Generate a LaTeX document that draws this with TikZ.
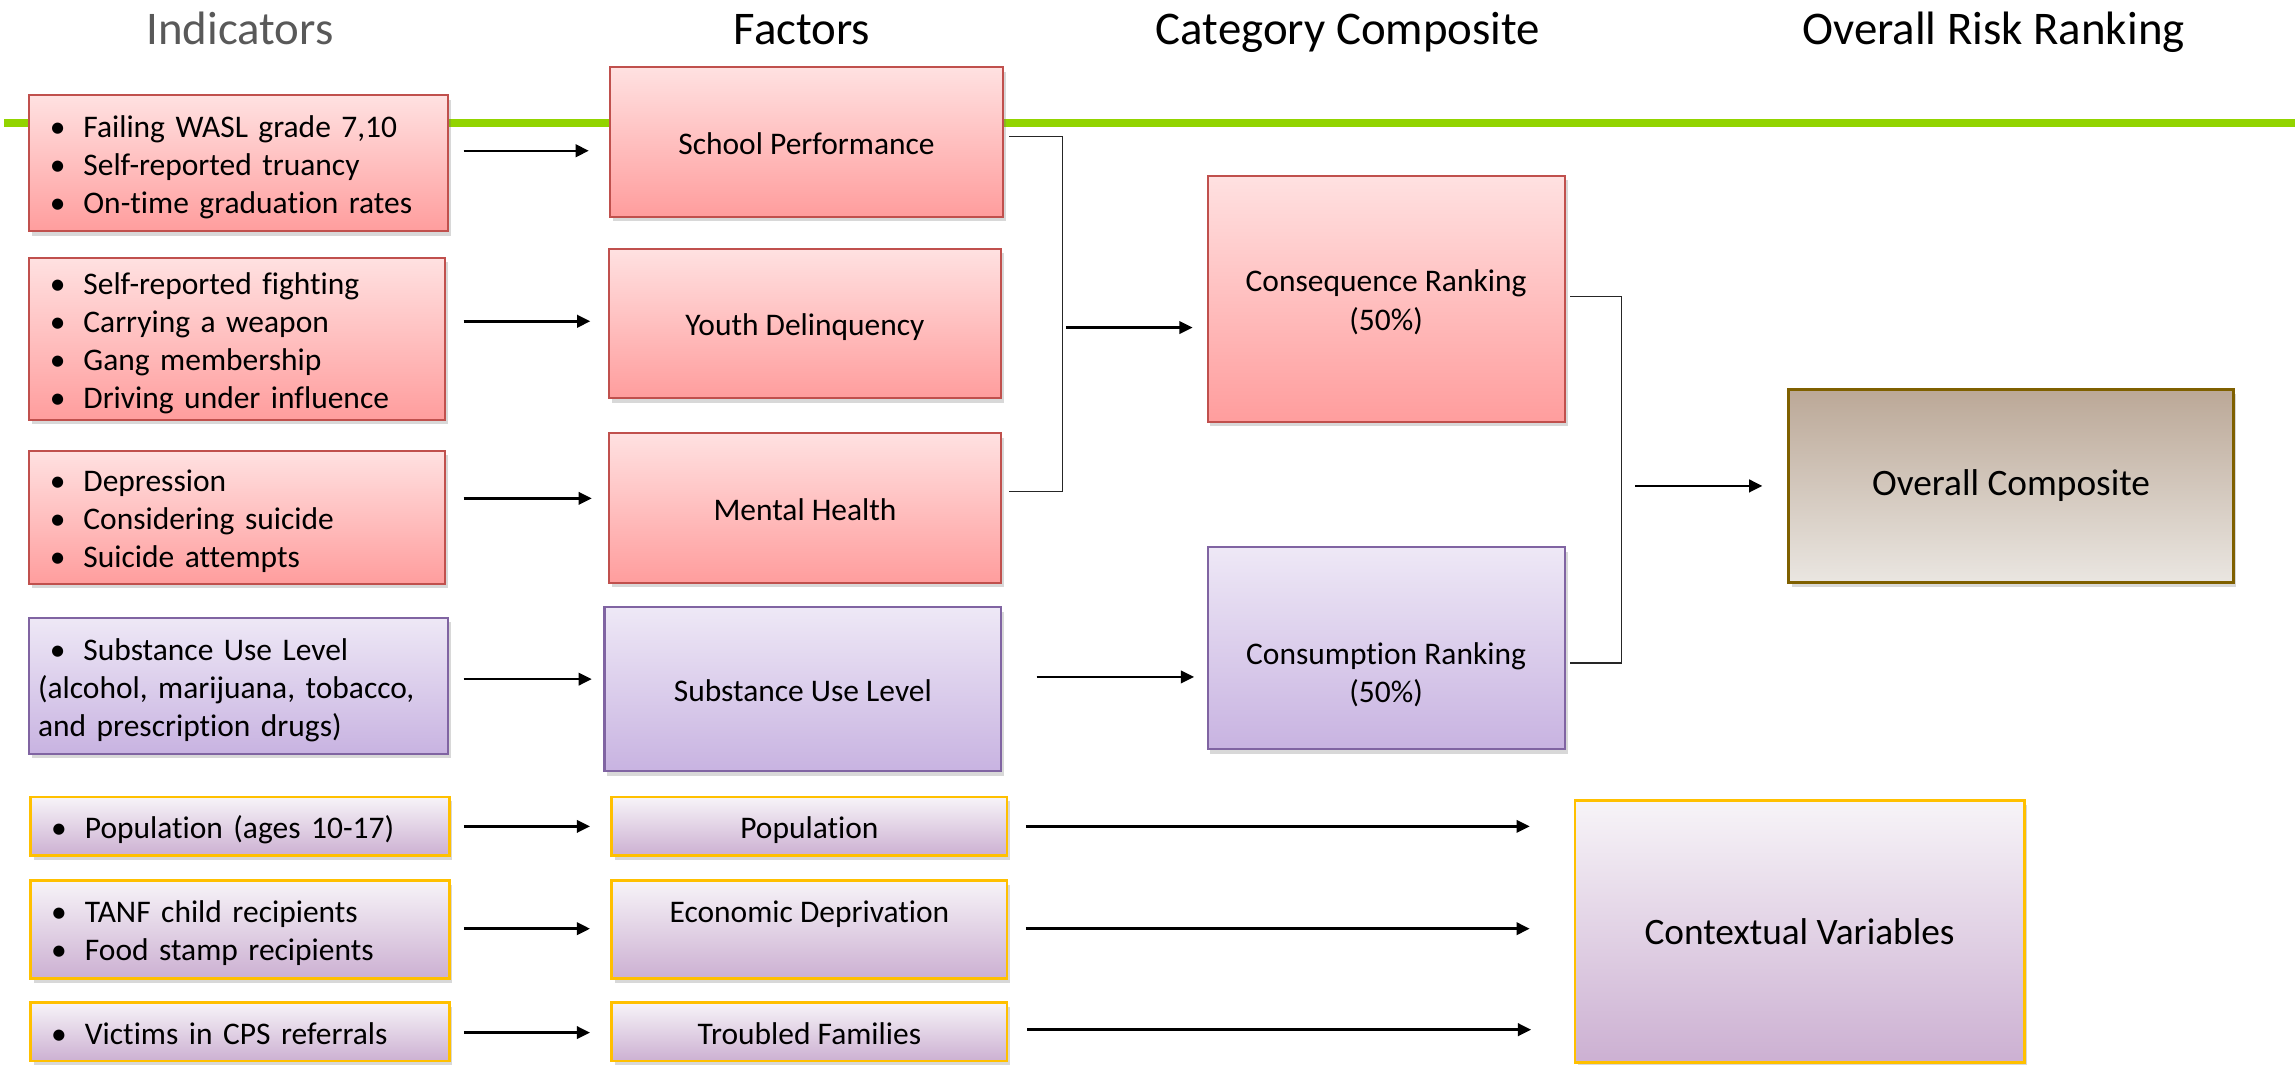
\documentclass[tikz,border=0pt]{standalone}
\usepackage{fontspec}
\setmainfont{Carlito}[Ligatures=NoCommon]
\usetikzlibrary{arrows.meta,shadows,calc}
\definecolor{redbd}{HTML}{C0504D}
\definecolor{redtop}{HTML}{FFE1E1}
\definecolor{redbot}{HTML}{FF9D9D}
\definecolor{purbd}{HTML}{8064A2}
\definecolor{purtop}{HTML}{EEE8F6}
\definecolor{purbot}{HTML}{C8B3E1}
\definecolor{goldbd}{HTML}{FFC000}
\definecolor{mautop}{HTML}{F7F4F8}
\definecolor{maubot}{HTML}{CCB0D2}
\definecolor{brnbd}{HTML}{7F6000}
\definecolor{brntop}{HTML}{BBA897}
\definecolor{brnbot}{HTML}{EAE6E1}
\definecolor{grn}{HTML}{92D400}
\definecolor{ttlgray}{HTML}{595959}
\newcommand\st{\rule[-4pt]{0pt}{25pt}}
\newcommand\bl{\st\makebox[23pt][l]{•}}
\tikzset{
  shd/.style={drop shadow={shadow xshift=2pt,shadow yshift=-3pt,opacity=.28,fill=black!55}},
  redbox/.style={shd,draw=redbd,line width=1.4pt,top color=redtop,bottom color=redbot},
  purbox/.style={shd,draw=purbd,line width=1.4pt,top color=purtop,bottom color=purbot},
  maubox/.style={shd,draw=goldbd,line width=1.8pt,top color=mautop,bottom color=maubot},
  brnbox/.style={shd,draw=brnbd,line width=1.8pt,top color=brntop,bottom color=brnbot},
  indbox/.style={inner xsep=14pt,inner ysep=0pt,align=left,font=\fontsize{21.5}{26}\selectfont},
  facbox/.style={inner sep=0pt,align=center,font=\fontsize{21.5}{26}\selectfont},
  bigbox/.style={inner sep=0pt,align=center,font=\fontsize{25.5}{30}\selectfont},
  ttl/.style={anchor=base,font=\fontsize{32}{36}\selectfont},
  arr/.style={line width=1.7pt,-{Triangle[length=9pt,width=8.5pt]}},
  brk/.style={line width=0.9pt,draw=black!85}
}
\begin{document}
\begin{tikzpicture}[x=1pt,y=-1pt]
\useasboundingbox (0,0) rectangle (1568,727);
% titles
\node[ttl,text=ttlgray] (t1) at (164,30.7) {Indicators};
\node[ttl] (t2) at (548,30.7) {Factors};
\node[ttl] (t3) at (921,30.7) {Category Composite};
\node[ttl] (t4) at (1362,30.7) {Overall Risk Ranking};
% green rule
\coordinate (g1) at (3,84);
\coordinate (g2) at (1568,84);
\draw[grn,line width=6pt] (g1) -- (g2);
% indicator boxes
\node[redbox,indbox,minimum width=286pt,minimum height=93pt,text width=258pt] (I1) at (163,111.5)
  {\bl Failing WASL grade 7,10\\\bl Self-reported truancy\\\bl On-time graduation rates};
\node[redbox,indbox,minimum width=284pt,minimum height=111pt,text width=256pt] (I2) at (162,231.5)
  {\bl Self-reported fighting\\\bl Carrying a weapon\\\bl Gang membership\\\bl Driving under influence};
\node[redbox,indbox,minimum width=284pt,minimum height=91pt,text width=256pt] (I3) at (162,353.5)
  {\bl Depression\\\bl Considering suicide\\\bl Suicide attempts};
\node[purbox,indbox,inner xsep=6pt,minimum width=286pt,minimum height=93pt,text width=274pt] (I4) at (163,468.5)
  {\hspace*{8pt}\bl Substance Use Level\\\st(alcohol, marijuana, tobacco,\\\st and prescription drugs)};
\node[maubox,indbox,minimum width=286pt,minimum height=40pt,text width=258pt] (I5) at (164,564.5)
  {\bl Population (ages 10-17)};
\node[maubox,indbox,minimum width=286pt,minimum height=67pt,text width=258pt] (I6) at (164,635)
  {\bl TANF child recipients\\\bl Food stamp recipients};
\node[maubox,indbox,minimum width=286pt,minimum height=40pt,text width=258pt] (I7) at (164,705)
  {\bl Victims in CPS referrals};
% factor boxes
\node[redbox,facbox,minimum width=268pt,minimum height=102pt] (F1) at (551,97) {\st School Performance};
\node[redbox,facbox,minimum width=268pt,minimum height=102pt] (F2) at (550,221) {\st Youth Delinquency};
\node[redbox,facbox,minimum width=268pt,minimum height=102pt] (F3) at (550,347) {\st Mental Health};
\node[purbox,facbox,minimum width=271pt,minimum height=112pt] (F4) at (548.5,471) {\st Substance Use Level};
\node[maubox,facbox,minimum width=270pt,minimum height=40pt] (F5) at (553,564.5) {\st Population};
\node[maubox,facbox,minimum width=270pt,minimum height=67pt] (F6) at (553,635)
  {\raisebox{5pt}[0pt][0pt]{Economic Deprivation}};
\node[maubox,facbox,minimum width=270pt,minimum height=40pt] (F7) at (553,705) {\st Troubled Families};
% category composite
\node[redbox,facbox,minimum width=244pt,minimum height=168pt] (C1) at (947,204) {\st Consequence Ranking\\\st(50\%)};
\node[purbox,facbox,minimum width=244pt,minimum height=138pt] (C2) at (947,443)
  {\raisebox{-24pt}[0pt][0pt]{\begin{tabular}{@{}c@{}}Consumption Ranking\\(50\%)\end{tabular}}};
% overall
\node[brnbox,bigbox,minimum width=304pt,minimum height=132pt] (OC) at (1374,332) {Overall Composite};
\node[maubox,bigbox,minimum width=307pt,minimum height=179pt] (CV) at (1229.5,636.5) {Contextual Variables};
% row levels
\coordinate (r1) at (0,103);
\coordinate (r2) at (0,219.5);
\coordinate (r3) at (0,340.5);
\coordinate (r4) at (0,464);
\coordinate (r5) at (0,564.6);
\coordinate (r6) at (0,634.5);
\coordinate (r7) at (0,705.5);
% indicator -> factor arrows
\draw[arr] ($(I1.east|-r1)+(10,0)$) -- ($(F1.west|-r1)+(-14,0)$);
\draw[arr] ($(I2.east|-r2)+(12,0)$) -- ($(F2.west|-r2)+(-12,0)$);
\draw[arr] ($(I3.east|-r3)+(12,0)$) -- ($(F3.west|-r3)+(-11,0)$);
\draw[arr] ($(I4.east|-r4)+(10,0)$) -- ($(F4.west|-r4)+(-8,0)$);
\draw[arr] ($(I5.east|-r5)+(9,0)$) -- ($(F5.west|-r5)+(-14,0)$);
\draw[arr] ($(I6.east|-r6)+(9,0)$) -- ($(F6.west|-r6)+(-14,0)$);
\draw[arr] ($(I7.east|-r7)+(9,0)$) -- ($(F7.west|-r7)+(-14,0)$);
% factor -> contextual
\draw[arr] ($(F5.east|-r5)+(12,0)$) -- ($(CV.west|-r5)+(-30,0)$);
\draw[arr] ($(F6.east|-r6)+(12,0)$) -- ($(CV.west|-r6)+(-30,0)$);
\draw[arr] ($(F7.east)+(13,-1.5)$) -- ($(CV.west|-F7.east)+(-29,-1.5)$);
% substance -> consumption
\draw[arr] ($(F4.east)+(23.5,-8.5)$) -- ($(C2.west)+(-8.5,19.5)$);
% bracket 1
\draw[brk] ($(F1.east)+(4,-3.7)$) -| ($(F3.east)+(41,-11.2)$) -- ($(F3.east)+(5,-11.2)$);
\draw[arr] ($(C1.west)+(-96,19.8)$) -- ($(C1.west)+(-9.5,19.8)$);
% bracket 2
\draw[brk] ($(C1.east)+(3,-1.4)$) -| ($(C2.east)+(38,10)$) -- ($(C2.east)+(3,10)$);
\draw[arr] ($(OC.west)+(-104,0)$) -- ($(OC.west)+(-17,0)$);
\end{tikzpicture}
\end{document}
